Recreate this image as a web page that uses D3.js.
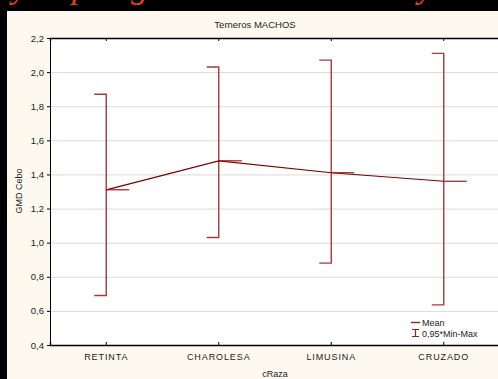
<!DOCTYPE html>
<html>
<head>
<meta charset="utf-8">
<script src="https://cdn.jsdelivr.net/npm/d3@7"></script>
<style>
  html, body { margin: 0; padding: 0; background: #000; }
  svg { display: block; }
</style>
</head>
<body>
<svg id="chart" width="498" height="379"></svg>
<script>
// Daily weight gain (GMD) during fattening, male calves, by breed
const categories = ["RETINTA", "CHAROLESA", "LIMUSINA", "CRUZADO"];
const meanValues = [1.31, 1.48, 1.41, 1.36];
const minValues  = [0.69, 1.03, 0.88, 0.635];
const maxValues  = [1.87, 2.03, 2.07, 2.11];
const yTicks = [0.4, 0.6, 0.8, 1.0, 1.2, 1.4, 1.6, 1.8, 2.0, 2.2];

const svg = d3.select("#chart");
const W = 498, H = 379;

// black background with the slide heading above the panel (only its descenders fit)
svg.append("rect").attr("width", W).attr("height", H).attr("fill", "#000");
const heading = svg.append("g").attr("font-family", "Liberation Serif, serif")
  .attr("font-style", "italic").attr("font-size", 34).attr("fill", "#e8400c");
[["y", 12], ["p", 72], ["g", 131], ["y", 418]].forEach(([ch, x]) => {
  heading.append("text").attr("x", x).attr("y", -2).text(ch);
});

// cream chart panel
svg.append("rect").attr("x", 7).attr("y", 11).attr("width", W - 7).attr("height", H - 11)
  .attr("fill", "#fdf9ee");

const m = { left: 50, top: 38, right: 500, bottom: 345 };
const x = d3.scaleBand().domain(categories).range([m.left, m.right]);
const y = d3.scaleLinear().domain([0.4, 2.2]).range([m.bottom, m.top]);
const cx = d => x(d) + x.bandwidth() / 2;

// plot area
svg.append("rect").attr("x", m.left).attr("y", m.top)
  .attr("width", m.right - m.left).attr("height", m.bottom - m.top).attr("fill", "#fff");

// horizontal grid
svg.append("g").selectAll("line").data(yTicks.slice(1, -1)).join("line")
  .attr("x1", m.left).attr("x2", m.right)
  .attr("y1", d => y(d) + 0.5).attr("y2", d => y(d) + 0.5)
  .attr("stroke", "#dadada").attr("stroke-width", 1);

// axes
const fmt = d => d3.format(".1f")(d).replace(".", ",");
const yAxis = svg.append("g").attr("transform", `translate(${m.left},0)`)
  .call(d3.axisLeft(y).tickValues(yTicks).tickFormat(fmt).tickSize(3).tickPadding(3));
yAxis.select(".domain").attr("stroke", "#000");
yAxis.selectAll(".tick line").attr("stroke", "#000");
yAxis.selectAll("text").attr("font-family", "Liberation Sans, Arial, sans-serif")
  .attr("font-size", 9.5).attr("fill", "#222");

const xAxis = svg.append("g").attr("transform", `translate(0,${m.bottom})`)
  .call(d3.axisBottom(x).tickSize(-3).tickPadding(9));
xAxis.select(".domain").attr("stroke", "#000").attr("stroke-width", 1.4);
xAxis.selectAll(".tick line").attr("stroke", "#000");
xAxis.selectAll("text").attr("font-family", "Liberation Sans, Arial, sans-serif")
  .attr("font-size", 9).attr("letter-spacing", 0.9).attr("fill", "#222");

const xTop = svg.append("g").attr("transform", `translate(0,${m.top})`)
  .call(d3.axisTop(x).tickSize(-3).tickFormat(""));
xTop.select(".domain").attr("stroke", "#000").attr("stroke-width", 1.4);
xTop.selectAll(".tick line").attr("stroke", "#000");

// titles
svg.append("text").attr("x", 255).attr("y", 28).attr("text-anchor", "middle")
  .attr("font-family", "Liberation Sans, Arial, sans-serif").attr("font-size", 9.5)
  .attr("fill", "#222").text("Terneros MACHOS");
svg.append("text").attr("transform", "translate(22,191) rotate(-90)")
  .attr("text-anchor", "middle").attr("font-family", "Liberation Sans, Arial, sans-serif")
  .attr("font-size", 9).attr("fill", "#222").text("GMD Cebo");
svg.append("text").attr("x", 275).attr("y", 377).attr("text-anchor", "middle")
  .attr("font-family", "Liberation Sans, Arial, sans-serif").attr("font-size", 9)
  .attr("fill", "#222").text("cRaza");

// min-max whiskers with left-pointing caps
const barColor = "#a83a3a";
const whiskers = svg.append("g").attr("fill", "none").attr("stroke", barColor).attr("stroke-width", 1.4);
categories.forEach((c, i) => {
  const px = cx(c);
  whiskers.append("path").attr("d",
    `M${px - 12},${y(maxValues[i])}H${px}V${y(minValues[i])}H${px - 12}`);
});

// mean line and right-pointing mean markers
const line = d3.line().x((d, i) => cx(categories[i])).y(d => y(d));
svg.append("path").datum(meanValues).attr("d", line)
  .attr("fill", "none").attr("stroke", "#7a0000").attr("stroke-width", 1.2);
svg.append("g").selectAll("line").data(meanValues).join("line")
  .attr("x1", (d, i) => cx(categories[i])).attr("x2", (d, i) => cx(categories[i]) + 23)
  .attr("y1", d => y(d)).attr("y2", d => y(d))
  .attr("stroke", "#9a1e1e").attr("stroke-width", 1.2);

// legend
const lg = svg.append("g").attr("font-family", "Liberation Sans, Arial, sans-serif")
  .attr("font-size", 9).attr("fill", "#222");
lg.append("line").attr("x1", 411).attr("x2", 420).attr("y1", 322.5).attr("y2", 322.5)
  .attr("stroke", "#9a1e1e").attr("stroke-width", 1.4);
lg.append("text").attr("x", 422).attr("y", 325.5).text("Mean");
lg.append("path").attr("d", "M412,329.5H419M415.5,329.5V336.5M412,336.5H419")
  .attr("fill", "none").attr("stroke", "#9a1e1e").attr("stroke-width", 1.2);
lg.append("text").attr("x", 422).attr("y", 337).text("0,95*Min-Max");
</script>
</body>
</html>
